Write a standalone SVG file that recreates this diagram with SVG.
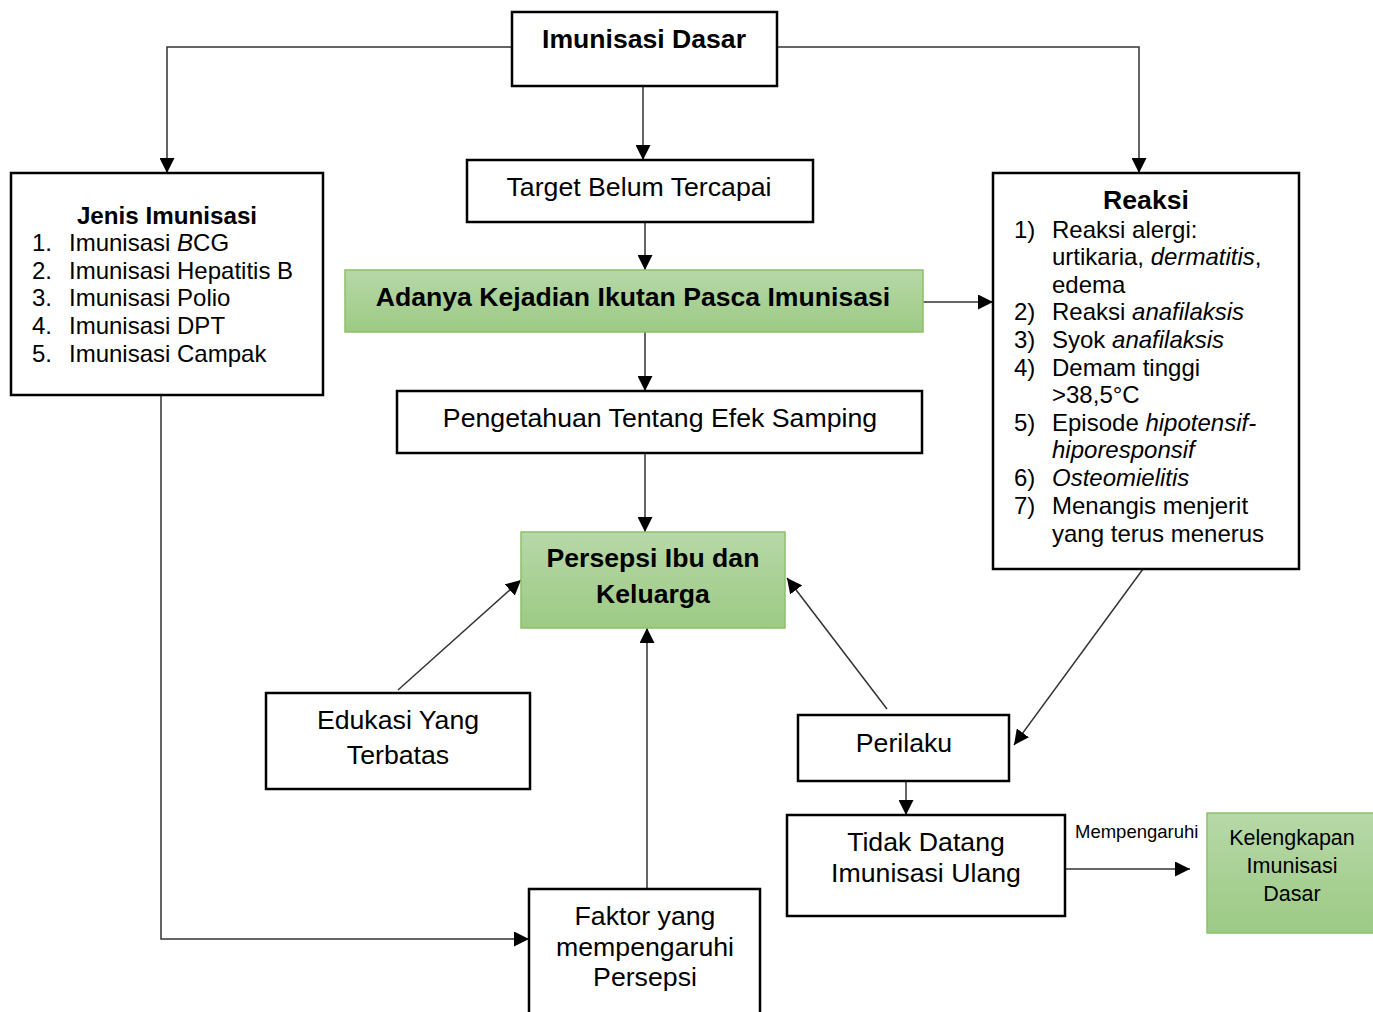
<svg xmlns="http://www.w3.org/2000/svg" width="1373" height="1012" viewBox="0 0 1373 1012">
<defs>
<linearGradient id="g" x1="0" y1="0" x2="0" y2="1">
<stop offset="0" stop-color="#b7d8a8"/>
<stop offset="1" stop-color="#9cca84"/>
</linearGradient>
<marker id="a" viewBox="0 0 12 12" refX="12" refY="6" markerWidth="15" markerHeight="15" markerUnits="userSpaceOnUse" orient="auto">
<path d="M0,0 L12,6 L0,12 Z" fill="#000"/>
</marker>
<style>
.b{fill:#fff;stroke:#000;stroke-width:2.5}
.gr{fill:url(#g);stroke:#8cc06a;stroke-width:1.5}
text{font-family:"Liberation Sans",Arial,sans-serif;fill:#000}
.t{font-size:26.7px;text-anchor:middle}
.tb{font-size:26.6px;text-anchor:middle;font-weight:bold}
.l{font-size:24px}
.c{fill:none;stroke:#333;stroke-width:1.5;marker-end:url(#a)}
</style>
</defs>
<g id="connectors">
<path class="c" d="M512,47 H167 V173"/>
<path class="c" d="M777,47 H1139 V173"/>
<path class="c" d="M643,86 V160"/>
<path class="c" d="M645,222 V270"/>
<path class="c" d="M645,332 V391"/>
<path class="c" d="M923,302 H993"/>
<path class="c" d="M645,453 V532"/>
<path class="c" d="M398,690 L521,580"/>
<path class="c" d="M887,709 L787,578"/>
<path class="c" d="M1143,569 L1014,745"/>
<path class="c" d="M906,781 V815"/>
<path class="c" d="M161,395 V939 H529"/>
<path class="c" d="M647,889 V628"/>
<path class="c" d="M1065,869 H1190"/>
</g>
<g id="imunisasi-dasar">
<rect class="b" x="512" y="12" width="265" height="74"/>
<text class="tb" x="644" y="48">Imunisasi Dasar</text>
</g>
<g id="target">
<rect class="b" x="467" y="160" width="346" height="62"/>
<text class="t" x="639" y="196">Target Belum Tercapai</text>
</g>
<g id="kipi">
<rect class="gr" x="345" y="270" width="578" height="62"/>
<text class="tb" x="633" y="306">Adanya Kejadian Ikutan Pasca Imunisasi</text>
</g>
<g id="pengetahuan">
<rect class="b" x="397" y="391" width="525" height="62"/>
<text class="t" x="660" y="427">Pengetahuan Tentang Efek Samping</text>
</g>
<g id="persepsi">
<rect class="gr" x="521" y="532" width="264" height="96"/>
<text class="tb" x="653" y="567">Persepsi Ibu dan</text>
<text class="tb" x="653" y="603">Keluarga</text>
</g>
<g id="jenis">
<rect class="b" x="11" y="173" width="312" height="222"/>
<text x="167" y="224" font-size="24.2" font-weight="bold" text-anchor="middle">Jenis Imunisasi</text>
<text class="l" x="32" y="251">1.</text><text class="l" x="69" y="251">Imunisasi <tspan font-style="italic">B</tspan>CG</text>
<text class="l" x="32" y="279">2.</text><text class="l" x="69" y="279">Imunisasi Hepatitis B</text>
<text class="l" x="32" y="306">3.</text><text class="l" x="69" y="306">Imunisasi Polio</text>
<text class="l" x="32" y="334">4.</text><text class="l" x="69" y="334">Imunisasi DPT</text>
<text class="l" x="32" y="362">5.</text><text class="l" x="69" y="362">Imunisasi Campak</text>
</g>
<g id="reaksi">
<rect class="b" x="993" y="173" width="306" height="396"/>
<text class="tb" x="1146" y="209">Reaksi</text>
<text class="l" x="1014" y="238">1)</text><text class="l" x="1052" y="238">Reaksi alergi:</text>
<text class="l" x="1052" y="265">urtikaria, <tspan font-style="italic">dermatitis</tspan>,</text>
<text class="l" x="1052" y="293">edema</text>
<text class="l" x="1014" y="320">2)</text><text class="l" x="1052" y="320">Reaksi <tspan font-style="italic">anafilaksis</tspan></text>
<text class="l" x="1014" y="348">3)</text><text class="l" x="1052" y="348">Syok <tspan font-style="italic">anafilaksis</tspan></text>
<text class="l" x="1014" y="376">4)</text><text class="l" x="1052" y="376">Demam tinggi</text>
<text class="l" x="1052" y="403">&gt;38,5°C</text>
<text class="l" x="1014" y="431">5)</text><text class="l" x="1052" y="431">Episode <tspan font-style="italic">hipotensif-</tspan></text>
<text class="l" x="1052" y="458" font-style="italic">hiporesponsif</text>
<text class="l" x="1014" y="486">6)</text><text class="l" x="1052" y="486" font-style="italic">Osteomielitis</text>
<text class="l" x="1014" y="514">7)</text><text class="l" x="1052" y="514">Menangis menjerit</text>
<text class="l" x="1052" y="542">yang terus menerus</text>
</g>
<g id="edukasi">
<rect class="b" x="266" y="693" width="264" height="96"/>
<text class="t" x="398" y="729">Edukasi Yang</text>
<text class="t" x="398" y="764">Terbatas</text>
</g>
<g id="perilaku">
<rect class="b" x="798" y="715" width="211" height="66"/>
<text class="t" x="904" y="752">Perilaku</text>
</g>
<g id="tidak-datang">
<rect class="b" x="787" y="815" width="278" height="101"/>
<text class="t" x="926" y="851">Tidak Datang</text>
<text class="t" x="926" y="882">Imunisasi Ulang</text>
</g>
<g id="kelengkapan">
<rect class="gr" x="1207" y="813" width="167" height="120"/>
<text x="1292" y="845" font-size="21.5" text-anchor="middle">Kelengkapan</text>
<text x="1292" y="873" font-size="21.5" text-anchor="middle">Imunisasi</text>
<text x="1292" y="901" font-size="21.5" text-anchor="middle">Dasar</text>
</g>
<text id="label-mempengaruhi" x="1075" y="838" font-size="18.5">Mempengaruhi</text>
<g id="faktor">
<rect class="b" x="529" y="889" width="231" height="140"/>
<text class="t" x="645" y="925">Faktor yang</text>
<text class="t" x="645" y="956">mempengaruhi</text>
<text class="t" x="645" y="986">Persepsi</text>
</g>
</svg>
